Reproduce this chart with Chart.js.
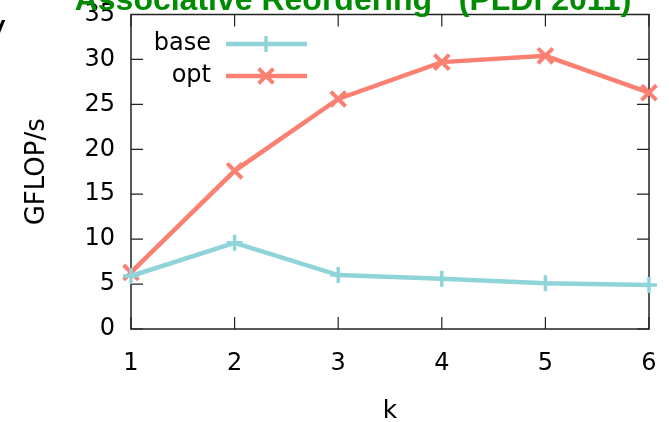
<!DOCTYPE html>
<html><head><meta charset="utf-8">
<script src="https://cdn.jsdelivr.net/npm/chart.js@4/dist/chart.umd.min.js"></script>
<style>html,body{margin:0;padding:0;background:#fff;overflow:hidden}#wrap{width:669px;height:422px;position:relative}</style>
</head><body><div id="wrap"><canvas id="c" width="669" height="422"></canvas></div>
<script>
const kValues = [1, 2, 3, 4, 5, 6];
const baseValues = [5.9, 9.6, 6.0, 5.6, 5.1, 4.9];
const optValues = [6.3, 17.6, 25.6, 29.7, 30.4, 26.3];
const yTickValues = [0, 5, 10, 15, 20, 25, 30, 35];
const seriesLabels = ['base', 'opt'];
const seriesColors = ['#8fd4d9', '#fa8072'];
const chartTitle = 'Associative Reordering   (PLDI 2011)';
const xTitle = 'k';
const yTitle = 'GFLOP/s';

const FONT = 'DejaVu Sans';

const decor = {
  id: 'decor',
  beforeDatasetsDraw(chart) {
    const ctx = chart.ctx, a = chart.chartArea;
    const xs = chart.scales.x, ys = chart.scales.y;
    ctx.save();
    ctx.strokeStyle = '#222';
    ctx.lineWidth = 1.5;
    ctx.strokeRect(a.left, a.top, a.right - a.left, a.bottom - a.top);
    const tl = 12;
    ctx.beginPath();
    kValues.forEach(v => {
      const p = xs.getPixelForValue(v);
      ctx.moveTo(p, a.bottom); ctx.lineTo(p, a.bottom - tl);
      ctx.moveTo(p, a.top); ctx.lineTo(p, a.top + tl);
    });
    yTickValues.forEach(v => {
      const p = ys.getPixelForValue(v);
      ctx.moveTo(a.left, p); ctx.lineTo(a.left + tl, p);
      ctx.moveTo(a.right, p); ctx.lineTo(a.right - tl, p);
    });
    ctx.lineWidth = 1.2;
    ctx.stroke();
    ctx.restore();
  },
  afterDraw(chart) {
    const ctx = chart.ctx;
    ctx.save();
    ctx.font = 'bold 32px "Liberation Sans", Arial, sans-serif';
    ctx.fillStyle = 'rgb(0,140,0)';
    ctx.textAlign = 'center';
    ctx.textBaseline = 'alphabetic';
    ctx.fillText(chartTitle, 353, 10);
    ctx.font = '36px "' + FONT + '"';
    ctx.fillStyle = '#000';
    ctx.textAlign = 'left';
    ctx.fillText('y', -15, 40);
    const rows = [44, 76];
    chart.data.datasets.forEach((ds, i) => {
      const y = rows[i];
      ctx.font = '24px "' + FONT + '"';
      ctx.fillStyle = '#000';
      ctx.textAlign = 'right';
      ctx.textBaseline = 'middle';
      ctx.fillText(ds.label, 211, y);
      ctx.strokeStyle = ds.borderColor;
      ctx.lineWidth = ds.borderWidth;
      ctx.beginPath();
      ctx.moveTo(226, y); ctx.lineTo(307, y);
      ctx.stroke();
      ctx.lineWidth = ds.pointBorderWidth;
      Chart.helpers.drawPoint(ctx, {pointStyle: ds.pointStyle, radius: ds.pointRadius, rotation: 0, borderWidth: ds.pointBorderWidth}, 266, y);
    });
    ctx.restore();
  }
};

function zeroPad(s) { s.paddingTop = 0; s.paddingBottom = 0; s.paddingLeft = 0; s.paddingRight = 0; }

new Chart(document.getElementById('c'), {
  type: 'line',
  data: {
    datasets: [
      {
        label: seriesLabels[0],
        data: kValues.map((k, i) => ({x: k, y: baseValues[i]})),
        borderColor: seriesColors[0], backgroundColor: seriesColors[0],
        borderWidth: 4.5, pointStyle: 'cross', pointRadius: 8, pointBorderWidth: 3.5,
        pointBorderColor: seriesColors[0], tension: 0, clip: false, fill: false
      },
      {
        label: seriesLabels[1],
        data: kValues.map((k, i) => ({x: k, y: optValues[i]})),
        borderColor: seriesColors[1], backgroundColor: seriesColors[1],
        borderWidth: 4.5, pointStyle: 'crossRot', pointRadius: 10.5, pointBorderWidth: 4,
        pointBorderColor: seriesColors[1], tension: 0, clip: false, fill: false
      }
    ]
  },
  options: {
    responsive: false,
    animation: false,
    devicePixelRatio: 1,
    layout: {padding: {left: 0, right: 20, top: 14, bottom: 0}},
    plugins: {legend: {display: false}, tooltip: {enabled: false}, title: {display: false}},
    scales: {
      x: {
        type: 'linear', min: 1, max: 6,
        afterFit(s) { s.height = 93; zeroPad(s); },
        afterBuildTicks(s) { s.ticks = kValues.map(v => ({value: v})); },
        grid: {display: false, drawTicks: false},
        border: {display: false},
        ticks: {font: {family: FONT, size: 24}, color: '#000', padding: 20, maxRotation: 0},
        title: {display: true, text: xTitle, font: {family: FONT, size: 25}, color: '#000', padding: {top: 0, bottom: -4}}
      },
      y: {
        type: 'linear', min: 0, max: 35,
        afterFit(s) { s.width = 131; zeroPad(s); },
        afterBuildTicks(s) { s.ticks = yTickValues.map(v => ({value: v})); },
        grid: {display: false, drawTicks: false},
        border: {display: false},
        ticks: {font: {family: FONT, size: 24}, color: '#000', padding: 16},
        title: {display: true, text: yTitle, font: {family: FONT, size: 26}, color: '#000', padding: {top: 22, bottom: 0}}
      }
    }
  },
  plugins: [decor]
});
</script></body></html>
